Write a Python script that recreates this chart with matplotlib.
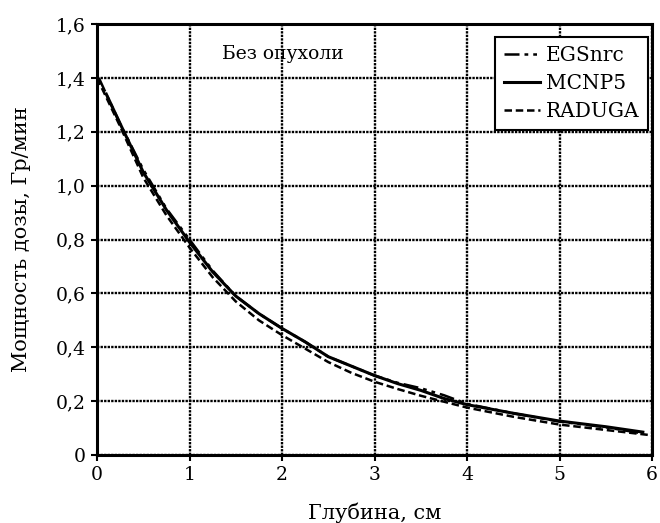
import matplotlib
matplotlib.use("Agg")
import matplotlib.pyplot as plt
from matplotlib.ticker import FuncFormatter

x_egs = [0.02, 0.1, 0.25, 0.5, 0.75, 1.0, 1.25, 1.5, 1.75, 2.0, 2.25, 2.5, 2.75, 3.0, 3.25, 3.5, 3.75, 4.0, 4.5, 5.0, 5.5, 5.9]
y_egs = [1.40, 1.34, 1.23, 1.06, 0.915, 0.80, 0.685, 0.59, 0.525, 0.47, 0.42, 0.365, 0.33, 0.295, 0.268, 0.248, 0.222, 0.19, 0.155, 0.124, 0.103, 0.08]

x_mcnp = [0.1, 0.25, 0.5, 0.75, 1.0, 1.25, 1.5, 1.75, 2.0, 2.25, 2.5, 2.75, 3.0, 3.25, 3.5, 3.75, 4.0, 4.5, 5.0, 5.5, 5.9]
y_mcnp = [1.34, 1.23, 1.05, 0.91, 0.79, 0.68, 0.59, 0.525, 0.47, 0.42, 0.365, 0.33, 0.295, 0.265, 0.24, 0.21, 0.187, 0.155, 0.126, 0.105, 0.085]

x_rad = [0.0, 0.25, 0.5, 0.75, 1.0, 1.25, 1.5, 1.75, 2.0, 2.25, 2.5, 2.75, 3.0, 3.25, 3.5, 3.75, 4.0, 4.5, 5.0, 5.5, 6.0]
y_rad = [1.40, 1.22, 1.03, 0.89, 0.77, 0.66, 0.57, 0.50, 0.445, 0.395, 0.345, 0.305, 0.272, 0.245, 0.22, 0.198, 0.176, 0.142, 0.113, 0.093, 0.073]

xticks = [0, 1, 2, 3, 4, 5, 6]
yticks = [0, 0.2, 0.4, 0.6, 0.8, 1.0, 1.2, 1.4, 1.6]

plt.rcParams['font.family'] = ['DejaVu Serif']

fig = plt.figure(figsize=(6.6, 5.23), dpi=100)
ax = fig.add_axes([0.147, 0.130, 0.841, 0.824])

ax.plot(x_egs, y_egs, color='black', lw=1.8, linestyle=(0, (6, 2, 1.5, 2, 1.5, 2)), label='EGSnrc')
ax.plot(x_mcnp, y_mcnp, color='black', lw=2.2, linestyle='-', label='MCNP5')
ax.plot(x_rad, y_rad, color='black', lw=1.8, linestyle=(0, (3, 1.5)), label='RADUGA')

ax.set_xlim(0, 6)
ax.set_ylim(0, 1.6)
ax.set_xticks(xticks)
ax.set_yticks(yticks)

def yfmt(v, pos):
    if abs(v) < 1e-9:
        return '0'
    return f'{v:.1f}'.replace('.', ',')

ax.yaxis.set_major_formatter(FuncFormatter(yfmt))
ax.xaxis.set_major_formatter(FuncFormatter(lambda v, p: f'{int(round(v))}'))

ax.grid(True, color='black', linestyle=(0, (1, 0.5)), linewidth=1.7)
ax.set_axisbelow(True)
for s in ax.spines.values():
    s.set_linewidth(2.2)
ax.tick_params(direction='out', length=4, width=1.5, labelsize=13.5, pad=4)

ax.set_xlabel('Глубина, см', fontsize=15, labelpad=13)
ax.set_ylabel('Мощность дозы, Гр/мин', fontsize=15, labelpad=18)

ax.text(1.35, 1.49, 'Без опухоли', fontsize=13.5, va='center', ha='left')

leg = ax.legend(loc='upper right', bbox_to_anchor=(0.993, 0.97), fontsize=14.5,
                frameon=True, fancybox=False,
                edgecolor='black', handlelength=1.8, handletextpad=0.25,
                borderaxespad=0.0, labelspacing=0.45, borderpad=0.45)
leg.get_frame().set_linewidth(1.5)
leg.get_frame().set_alpha(1)

fig.savefig('out.png', dpi=100)
